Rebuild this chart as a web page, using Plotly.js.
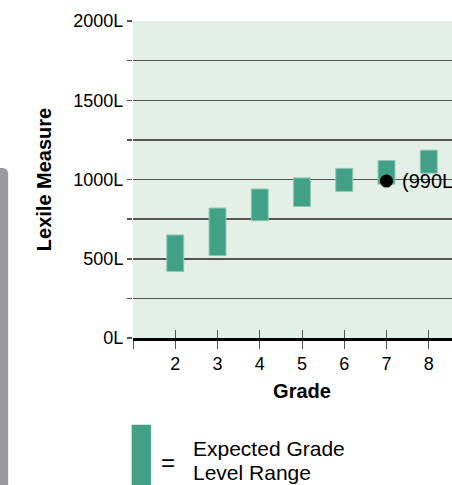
<!DOCTYPE html>
<html>
<head>
<meta charset="utf-8">
<script src="https://cdn.plot.ly/plotly-3.0.1.min.js"></script>
<style>
  html, body { margin: 0; padding: 0; background: #ffffff; overflow: hidden; width: 452px; height: 485px; }
  #chart { width: 520px; height: 485px; }
</style>
</head>
<body>
<div id="chart"></div>
<script>
// ---- data ----
const grades = [2, 3, 4, 5, 6, 7, 8];
const rangeLow = [420, 520, 740, 830, 925, 970, 1040];
const rangeHigh = [650, 820, 940, 1010, 1070, 1120, 1185];
const studentGrade = [7];
const studentLexile = [990];
const studentLabel = ['(990L)'];
const xTickVals = [1, 2, 3, 4, 5, 6, 7, 8];
const xTickText = ['', '2', '3', '4', '5', '6', '7', '8'];
const yTickVals = [0, 250, 500, 750, 1000, 1250, 1500, 1750, 2000];
const yTickText = ['0L', '', '500L', '', '1000L', '', '1500L', '', '2000L'];
const legendLines = ['Expected Grade', 'Level Range'];

const barHeights = rangeHigh.map((h, i) => h - rangeLow[i]);
const FONT = 'Liberation Sans, Arial, Helvetica, sans-serif';
const GREEN = '#41a085';

const traces = [
  {
    type: 'bar',
    x: grades,
    y: barHeights,
    base: rangeLow,
    width: 0.4,
    marker: { color: GREEN, line: { color: '#8cc7b2', width: 1 } },
    hoverinfo: 'skip',
    showlegend: false
  },
  {
    type: 'scatter',
    mode: 'markers',
    x: studentGrade,
    y: studentLexile,
    marker: { color: '#000000', size: 13 },
    cliponaxis: false,
    hoverinfo: 'skip',
    showlegend: false
  },
  {
    type: 'scatter',
    mode: 'markers',
    x: [1],
    y: [0],
    xaxis: 'x2',
    marker: { opacity: 0 },
    hoverinfo: 'skip',
    showlegend: false
  }
];

const annotations = [
  {
    xref: 'x', yref: 'y',
    x: studentGrade[0], y: studentLexile[0],
    text: studentLabel[0],
    showarrow: false,
    xanchor: 'left', yanchor: 'middle',
    xshift: 13,
    font: { family: FONT, size: 20, color: '#000000' }
  },
  {
    xref: 'paper', yref: 'paper',
    x: 0.104, y: -0.392,
    text: '=',
    showarrow: false,
    xanchor: 'center', yanchor: 'middle',
    font: { family: FONT, size: 24, color: '#000000' }
  }
];
const legendY = [-0.350, -0.425];
legendLines.forEach((t, i) => {
  annotations.push({
    xref: 'paper', yref: 'paper',
    x: 0.172, y: legendY[i],
    text: t,
    showarrow: false,
    xanchor: 'left', yanchor: 'middle',
    align: 'left',
    font: { family: FONT, size: 21, color: '#000000' }
  });
});

const layout = {
  width: 520,
  height: 485,
  margin: { l: 133, r: 49.4, t: 21, b: 147 },
  paper_bgcolor: '#ffffff',
  plot_bgcolor: '#e4efe7',
  font: { family: FONT, color: '#000000', size: 18 },
  showlegend: false,
  bargap: 0,
  xaxis: {
    range: [1, 9],
    tickmode: 'array',
    tickvals: xTickVals,
    ticktext: xTickText,
    ticks: 'outside',
    ticklen: 8,
    tickwidth: 1,
    tickcolor: '#555555',
    showgrid: false,
    zeroline: false,
    showline: true,
    linecolor: '#000000',
    linewidth: 2.5,
    tickfont: { family: FONT, size: 18, color: '#000000' },
    title: { text: 'Grade', font: { family: FONT, size: 20, color: '#000000', weight: 'bold' }, standoff: 11 },
    fixedrange: true
  },
  xaxis2: {
    overlaying: 'x',
    matches: 'x',
    anchor: 'y',
    side: 'bottom',
    tickmode: 'array',
    tickvals: xTickVals,
    ticks: 'inside',
    ticklen: 8,
    tickwidth: 1,
    tickcolor: '#555555',
    showticklabels: false,
    showgrid: false,
    zeroline: false,
    showline: false
  },
  yaxis: {
    range: [0, 2000],
    tickmode: 'array',
    tickvals: yTickVals,
    ticktext: yTickText,
    ticks: 'outside',
    ticklen: 5,
    tickwidth: 1.5,
    tickcolor: '#555555',
    showgrid: true,
    gridcolor: '#555555',
    gridwidth: 1.5,
    zeroline: false,
    showline: false,
    tickfont: { family: FONT, size: 18, color: '#000000' },
    title: { text: 'Lexile Measure', font: { family: FONT, size: 20, color: '#000000', weight: 'bold' }, standoff: 16 },
    fixedrange: true
  },
  shapes: [
    {
      type: 'path',
      xref: 'paper', yref: 'paper',
      path: 'M -0.39396,-0.4795 L -0.39396,0.53628 L -0.38715,0.53628 Q -0.36937,0.53628 -0.36937,0.51735 L -0.36937,-0.4795 Z',
      fillcolor: '#9b9aa0',
      line: { width: 0 },
      layer: 'above'
    },
    {
      type: 'rect',
      xref: 'paper', yref: 'paper',
      x0: -0.004, x1: 0.053, y0: -0.464, y1: -0.274,
      fillcolor: GREEN,
      line: { width: 0 }
    }
  ],
  annotations: annotations
};

Plotly.newPlot('chart', traces, layout, { displayModeBar: false, staticPlot: true });
</script>
</body>
</html>
